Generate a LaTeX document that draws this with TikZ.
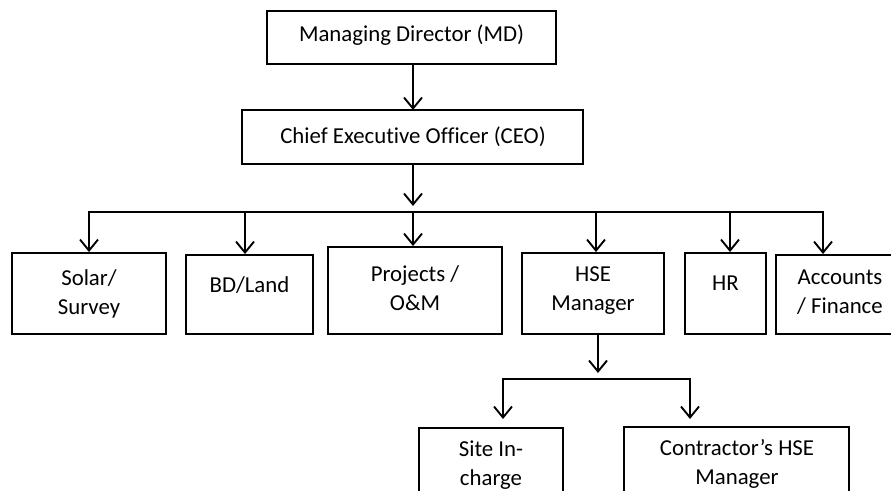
\documentclass[tikz,border=0pt]{standalone}
\usepackage{fontspec}
\setmainfont{Carlito}[Ligatures=NoCommon]
\usetikzlibrary{arrows.meta}
\tikzset{mytip/.tip={Straight Barb[length=11pt,width=18pt,line width=1.9pt]}}
\begin{document}
\begin{tikzpicture}[x=1pt,y=-1pt,
  box/.style={draw, line width=1.9pt, rectangle, inner sep=0pt},
  lbl/.style={align=center, font=\fontsize{22.8}{29}\selectfont, inner sep=0pt},
  arr/.style={line width=1.9pt, -{mytip}},
  conn/.style={line width=1.9pt, line join=miter}]
\useasboundingbox (0,0) rectangle (891,490);
\clip (0,0) rectangle (891,490);
% boxes
\node[box, minimum width=289pt, minimum height=53pt] (md) at (411.5,37.5) {};
\node[box, minimum width=341pt, minimum height=54pt] (ceo) at (412.5,137) {};
\node[box, minimum width=154pt, minimum height=81pt] (solar) at (89,293.5) {};
\node[box, minimum width=127pt, minimum height=79pt] (bd) at (249.5,294.5) {};
\node[box, minimum width=174pt, minimum height=87pt] (proj) at (415,290.5) {};
\node[box, minimum width=142pt, minimum height=81pt] (hse) at (593,293.5) {};
\node[box, minimum width=81pt, minimum height=81pt] (hr) at (725.5,293.5) {};
\node[box, minimum width=128pt, minimum height=79pt] (acc) at (840,294.5) {};
\node[box, minimum width=144pt, minimum height=92pt] (site) at (491,474) {};
\node[box, minimum width=225pt, minimum height=93pt] (con) at (736.5,473.5) {};
% labels
\node[lbl] (mdt) at (411.5,35) {Managing Director (MD)};
\node[lbl] (ceot) at (413,137) {Chief Executive Officer (CEO)};
\node[lbl] (solart) at (89,294) {Solar/\\Survey};
\node[lbl] (bdt) at (249.5,285) {BD/Land};
\node[lbl] (projt) at (415,288) {Projects /\\O\&M};
\node[lbl] (hset) at (593,291) {HSE\\Manager};
\node[lbl] (hrt) at (725.5,283) {HR};
\node[lbl] (acct) at (840,292) {Accounts\\/ Finance};
\node[lbl] (sitet) at (491,465) {Site In-\\charge};
\node[lbl] (cont) at (737,464) {Contractor’s HSE\\Manager};
% connectors
\coordinate (m1) at (413,110);
\draw[arr] (md.south -| m1) -- (m1);
\coordinate (c1) at (413,206);
\draw[arr] (ceo.south -| c1) -- (c1);
\coordinate (b1) at (89,212);
\coordinate (b2) at (245,212);
\coordinate (b3) at (413,212);
\coordinate (b4) at (596,212);
\coordinate (b5) at (730,212);
\coordinate (b6) at (823,212);
\draw[conn, {mytip}-{mytip}] (b1 |- solar.north) -- (b1) -- (b6) -- (b6 |- acc.north);
\draw[arr] (b2) -- (b2 |- bd.north);
\draw[arr] (b3) -- (b3 |- proj.north);
\draw[arr] (b4) -- (b4 |- hse.north);
\draw[arr] (b5) -- (b5 |- hr.north);
\coordinate (h1) at (598,373);
\draw[arr] (hse.south -| h1) -- (h1);
\coordinate (s1) at (503,379);
\coordinate (s2) at (690,379);
\coordinate (t1) at (503,419);
\coordinate (t2) at (690,419);
\draw[conn, {mytip}-{mytip}] (t1) -- (s1) -- (s2) -- (t2);
\end{tikzpicture}
\end{document}
